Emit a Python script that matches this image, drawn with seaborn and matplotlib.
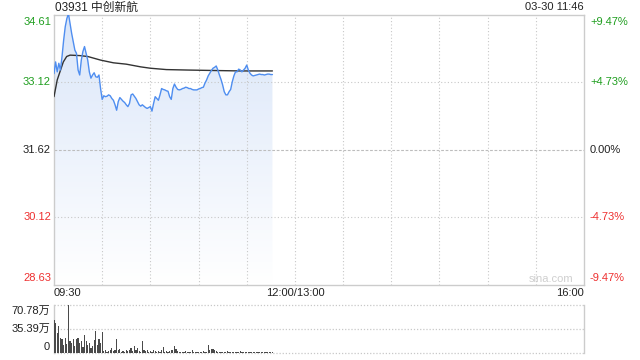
import numpy as np
import pandas as pd
import matplotlib
matplotlib.use("Agg")
import matplotlib.pyplot as plt
import matplotlib.transforms as mtrans
from matplotlib.colors import LinearSegmentedColormap
import seaborn as sns

# ---------------- data ----------------
title = "03931 中创新航"
stamp = "03-30 11:46"
prev_close = 31.62
price_ticks = [34.61, 33.12, 31.62, 30.12, 28.63]
pct_labels = ["+9.47%", "+4.73%", "0.00%", "-4.73%", "-9.47%"]
time_labels = ["09:30", "12:00/13:00", "16:00"]
time_pos = [0, 150, 330]
vol_ticks = [70.78, 35.39, 0]
vol_labels = ["70.78万", "35.39万", "0"]

price = [33.30, 33.56, 33.34, 33.53, 33.38, 33.68, 34.04, 34.34, 34.52, 34.63,
         34.41, 34.19, 34.01, 33.82, 33.75, 33.38, 33.27, 33.60, 33.79, 33.90,
         33.75, 33.60, 33.34, 33.20, 33.27, 33.32, 33.23, 33.22, 33.27, 32.97,
         32.73, 32.81, 32.79, 32.80, 32.83, 32.81, 32.75, 32.71, 32.61, 32.49,
         32.68, 32.77, 32.73, 32.69, 32.66, 32.61, 32.57, 32.64, 32.83, 32.85,
         32.80, 32.75, 32.68, 32.61, 32.58, 32.61, 32.58, 32.55, 32.53, 32.55,
         32.57, 32.47, 32.64, 32.79, 32.75, 32.71, 32.83, 32.97, 32.95, 32.94,
         32.92, 32.91, 32.79, 32.73, 32.97, 33.07, 33.00, 32.95, 32.94, 32.95,
         32.97, 32.98, 33.00, 32.99, 32.97, 32.97, 32.95, 32.94, 32.94, 32.94,
         32.96, 32.97, 32.99, 33.00, 33.09, 33.16, 33.25, 33.31, 33.37, 33.42,
         33.44, 33.47, 33.38, 33.27, 33.17, 33.05, 32.90, 32.83, 32.83, 32.90,
         32.95, 33.12, 33.25, 33.34, 33.34, 33.40, 33.38, 33.34, 33.38, 33.42,
         33.49, 33.38, 33.31, 33.27, 33.25, 33.26, 33.27, 33.28, 33.29, 33.28,
         33.28, 33.27, 33.28, 33.29, 33.29, 33.28, 33.28]

avg_minute = [0, 2, 3.7, 5.8, 7.9, 10, 16, 21, 29, 37, 45, 54, 60, 70, 83, 99, 116, 136]
avg_price = [32.79, 33.16, 33.34, 33.56, 33.68, 33.71, 33.70, 33.68, 33.60, 33.54,
             33.51, 33.45, 33.42, 33.39, 33.38, 33.37, 33.36, 33.36]

volume = [49, 44, 30, 40, 22, 20, 12, 22, 14, 70.78, 17, 15, 20, 11, 20, 22, 15, 17, 9, 26,
          17, 12, 15, 8, 10, 19, 33, 12, 20, 15, 31,
          3, 4, 2, 3, 5, 7, 3, 4, 20, 5, 6, 2, 3, 2, 4, 3, 5, 7, 3, 10,
          4, 8, 3, 2, 18, 5, 3, 4, 2, 3,
          2, 4, 3, 2, 3, 2, 4, 9, 2, 3, 2, 3, 4, 5, 10, 6, 3, 2, 1, 2,
          1, 3, 2, 1, 2, 5, 1, 2, 1, 2, 1, 2, 3, 1, 2, 12, 4, 6, 6, 5,
          3, 2, 1, 2, 2, 1, 2, 3, 1, 2, 2, 1, 2, 1, 2, 3, 1, 2, 1, 1,
          2, 1, 2, 1, 1, 2, 1, 1, 2, 1, 1, 1, 2, 1, 1, 1]

minute = np.arange(len(price))
df = pd.DataFrame({"minute": minute, "price": price, "volume": volume})
df_avg = pd.DataFrame({"minute": avg_minute, "avg": avg_price})

# ---------------- style ----------------
sns.set_theme(style="white")
plt.rcParams["font.family"] = ["Liberation Sans", "Noto Sans CJK SC", "DejaVu Sans"]

GREEN = "#1f9e1f"
RED = "#ee3030"
GRID = "#c8c8c8"
BORDER = "#cccccc"
FS = 8

W, H = 640, 360
fig = plt.figure(figsize=(6.4, 3.6), dpi=100)
fig.patch.set_facecolor("white")

ax = fig.add_axes([54 / W, 75.5 / H, 530 / W, 270 / H])
axv = fig.add_axes([54 / W, 7 / H, 530 / W, 48 / H])

x_max = 330
ax.set_xlim(0, x_max)
ax.set_ylim(price_ticks[-1], price_ticks[0])

# gradient fill under the price line
poly = ax.fill_between(df["minute"], df["price"], price_ticks[-1], color="none", lw=0)
cmap = LinearSegmentedColormap.from_list("g", ["#ffffff", "#dae6f9"])
grad = np.linspace(0, 1, 256).reshape(-1, 1)
im = ax.imshow(grad, cmap=cmap, origin="lower", aspect="auto",
               extent=[0, x_max, price_ticks[-1], price_ticks[0]], zorder=1)
path = poly.get_paths()[0]
im.set_clip_path(path, transform=ax.transData)

# grid
for t in range(30, x_max, 30):
    ax.axvline(t, color=GRID, lw=0.8, ls=(0, (1, 2)), zorder=2)
for v in price_ticks[1:-1]:
    if v == prev_close:
        ax.axhline(v, color="#bdbdbd", lw=0.8, ls=(0, (2.5, 1.5)), zorder=2)
    else:
        ax.axhline(v, color=GRID, lw=0.8, ls=(0, (1, 2)), zorder=2)

sns.lineplot(data=df, x="minute", y="price", ax=ax, color="#4f8ef0", lw=1.0,
             estimator=None, sort=False, zorder=4)
sns.lineplot(data=df_avg, x="minute", y="avg", ax=ax, color="#333333", lw=1.0,
             estimator=None, sort=False, zorder=3)

ax.set_xlabel("")
ax.set_ylabel("")
ax.set_xticks([])
ax.set_yticks([])
for s in ax.spines.values():
    s.set_color(BORDER)
    s.set_linewidth(1.0)
    s.set_visible(True)

# left / right labels
bl = mtrans.blended_transform_factory(ax.transAxes, ax.transData)
n = len(price_ticks)
for i, (v, p) in enumerate(zip(price_ticks, pct_labels)):
    col = GREEN if v > prev_close else (RED if v < prev_close else "#222222")
    va = "top" if i == 0 else ("bottom" if i == n - 1 else "center")
    off = -2 if i == 0 else (2 if i == n - 1 else 0)
    trans = bl + mtrans.ScaledTranslation(0, off / 100, fig.dpi_scale_trans)
    ax.text(-3 / 530, v, f"{v:.2f}", color=col, fontsize=FS, ha="right", va=va,
            transform=trans)
    ax.text(1 + 6 / 530, v, p, color=col, fontsize=FS, ha="left", va=va,
            transform=trans)

# time labels
bx = mtrans.blended_transform_factory(ax.transData, ax.transAxes)
for lab, t in zip(time_labels, time_pos):
    ha = "left" if t == 0 else ("right" if t == x_max else "center")
    ax.text(t, -0.013, lab, fontsize=FS, ha=ha, va="top", color="#222222", transform=bx)

# titles
fig.text(55 / W, 1 - 7.5 / H, title, fontsize=8.5, ha="left", va="center", color="#222222")
fig.text(584 / W, 1 - 7.5 / H, stamp, fontsize=FS, ha="right", va="center", color="#222222")
fig.text(573 / W, 1 - 279 / H, "sina.com", fontsize=8, ha="right", va="center", color="#cfcfcf")

# ---------------- volume panel ----------------
axv.set_xlim(0, x_max)
axv.set_ylim(0, vol_ticks[0])
axv.bar(df["minute"], df["volume"], width=0.75, color="#4a4a4a", lw=0, zorder=3)
for v in vol_ticks:
    axv.axhline(v, color=GRID, lw=0.9, ls=(0, (1, 1.5)), zorder=2, clip_on=False)
axv.set_xticks([])
axv.set_yticks([])
for k, s in axv.spines.items():
    if k in ("left", "right"):
        s.set_color(BORDER)
        s.set_linewidth(1.0)
        s.set_visible(True)
    else:
        s.set_visible(False)
blv = mtrans.blended_transform_factory(axv.transAxes, axv.transData)
for i, (v, lab) in enumerate(zip(vol_ticks, vol_labels)):
    va = "top" if i == 0 else ("bottom" if i == len(vol_ticks) - 1 else "center")
    off = -1 if i == 0 else (1 if i == len(vol_ticks) - 1 else 0)
    trans = blv + mtrans.ScaledTranslation(0, off / 100, fig.dpi_scale_trans)
    axv.text(-4 / 530, v, lab, fontsize=FS, ha="right", va=va, color="#222222",
             transform=trans)

fig.savefig("out.png", dpi=100, facecolor="white")
